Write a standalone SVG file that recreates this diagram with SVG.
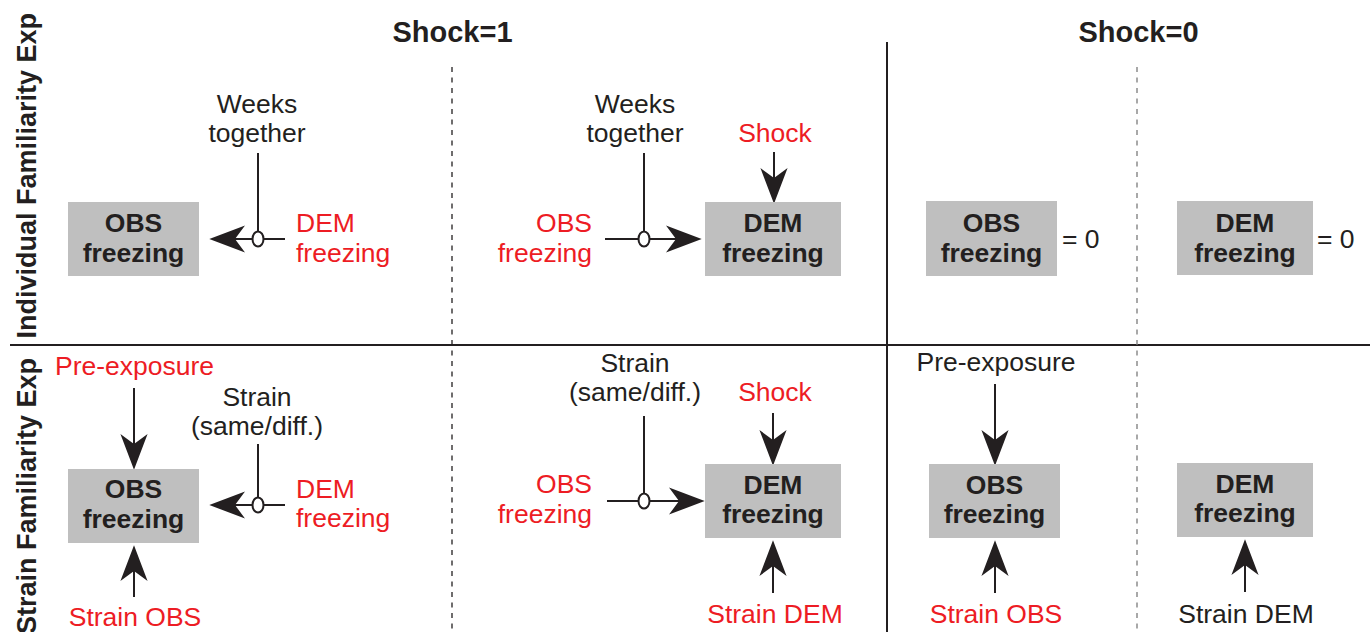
<svg xmlns="http://www.w3.org/2000/svg" width="1370" height="632" viewBox="0 0 1370 632">
<style>
text{font-family:"Liberation Sans",Arial,sans-serif;font-size:26.5px;fill:#231F20}
.b{font-weight:bold}
.r{fill:#ED1C24}
.m{text-anchor:middle}
.e{text-anchor:end}
.hdr{font-weight:bold;font-size:29px;text-anchor:middle}
.side{font-weight:bold;font-size:27px;text-anchor:end}
.box{fill:#BFBFBF}
.sep{stroke:#231F20;stroke-width:2;fill:none}
.dash{stroke:#231F20;stroke-width:1.3;stroke-dasharray:5 5.5;fill:none}
.dash2{stroke:#7a7a7a;stroke-width:1.3;stroke-dasharray:5 5.5;fill:none}
.ln{stroke:#231F20;stroke-width:2;fill:none}
.arr{stroke:#231F20;stroke-width:2;fill:none;marker-end:url(#ah)}
.mod{stroke:#231F20;stroke-width:2;fill:#fff}
</style>
<defs>
<marker id="ah" markerUnits="userSpaceOnUse" orient="auto" refX="0" refY="0" markerWidth="40" markerHeight="40" viewBox="-8 -11 28 22" overflow="visible">
<path d="M18,0 L-7,-9.5 L0,0 L-7,9.5 Z" fill="#231F20"/>
</marker>
</defs>
<g id="frame">
<line class="sep" x1="10" y1="345" x2="1370" y2="345"/>
<line class="sep" x1="887" y1="42" x2="887" y2="632"/>
<line class="dash" x1="452" y1="67" x2="452" y2="632"/>
<line class="dash2" x1="1137" y1="67" x2="1137" y2="632"/>
<text class="hdr" x="452.5" y="42">Shock=1</text>
<text class="hdr" x="1138.5" y="42">Shock=0</text>
<text class="side" transform="translate(36,13) rotate(-90)">Individual Familiarity Exp</text>
<text class="side" transform="translate(36,358) rotate(-90)">Strain Familiarity Exp</text>
</g>
<g id="connectors">
<line class="ln" x1="258" y1="153" x2="258" y2="231"/>
<line class="arr" x1="285" y1="239" x2="235" y2="239"/>
<ellipse class="mod" cx="258" cy="239" rx="5.5" ry="7.5"/>
<line class="ln" x1="644" y1="153" x2="644" y2="231"/>
<line class="arr" x1="605" y1="239" x2="676" y2="239"/>
<ellipse class="mod" cx="644" cy="239" rx="5.5" ry="7.5"/>
<line class="arr" x1="774" y1="152" x2="774" y2="178"/>
<line class="arr" x1="134" y1="388" x2="134" y2="444"/>
<line class="arr" x1="134" y1="597" x2="134" y2="571"/>
<line class="ln" x1="258" y1="444" x2="258" y2="497"/>
<line class="arr" x1="285" y1="505" x2="235" y2="505"/>
<ellipse class="mod" cx="258" cy="505" rx="5.5" ry="7.5"/>
<line class="ln" x1="644" y1="416" x2="644" y2="493"/>
<line class="arr" x1="607" y1="501" x2="679" y2="501"/>
<ellipse class="mod" cx="644" cy="501" rx="5.5" ry="7.5"/>
<line class="arr" x1="773" y1="413" x2="773" y2="440"/>
<line class="arr" x1="773" y1="593" x2="773" y2="566"/>
<line class="arr" x1="995" y1="384" x2="995" y2="440"/>
<line class="arr" x1="995" y1="593" x2="995" y2="566"/>
<line class="arr" x1="1245" y1="592" x2="1245" y2="565"/>
</g>
<g id="ind-shock1-obs-panel">
<g id="n-obs-1"><rect class="box" x="68" y="202" width="131" height="74"/><text class="b m" x="133.5" y="232">OBS</text><text class="b m" x="133.5" y="262">freezing</text></g>
<g id="n-weeks-1"><text class="m" x="257" y="113">Weeks</text><text class="m" x="257" y="142">together</text></g>
<g id="n-demf-1"><text class="r" x="296" y="232">DEM</text><text class="r" x="296" y="262">freezing</text></g>
</g>
<g id="ind-shock1-dem-panel">
<g id="n-weeks-2"><text class="m" x="635" y="113">Weeks</text><text class="m" x="635" y="142">together</text></g>
<g id="n-shock-2"><text class="r m" x="775" y="142">Shock</text></g>
<g id="n-obsf-2"><text class="r e" x="592" y="232">OBS</text><text class="r e" x="592" y="262">freezing</text></g>
<g id="n-dem-2"><rect class="box" x="705" y="202" width="136" height="74"/><text class="b m" x="773" y="232">DEM</text><text class="b m" x="773" y="262">freezing</text></g>
</g>
<g id="ind-shock0">
<g id="n-obs-3"><rect class="box" x="926" y="201" width="131" height="75"/><text class="b m" x="991.5" y="232">OBS</text><text class="b m" x="991.5" y="262">freezing</text><text x="1062" y="248">= 0</text></g>
<g id="n-dem-4"><rect class="box" x="1177" y="201" width="136" height="74"/><text class="b m" x="1245" y="232">DEM</text><text class="b m" x="1245" y="262">freezing</text><text x="1317" y="248">= 0</text></g>
</g>
<g id="str-shock1-obs-panel">
<g id="n-pre-5"><text class="r" x="55" y="375">Pre-exposure</text></g>
<g id="n-strain-5"><text class="m" x="257" y="406">Strain</text><text class="m" x="257" y="435">(same/diff.)</text></g>
<g id="n-obs-5"><rect class="box" x="68" y="469" width="131" height="74"/><text class="b m" x="133.5" y="498">OBS</text><text class="b m" x="133.5" y="528">freezing</text></g>
<g id="n-demf-5"><text class="r" x="296" y="498">DEM</text><text class="r" x="296" y="527">freezing</text></g>
<g id="n-strainobs-5"><text class="r m" x="135" y="626">Strain OBS</text></g>
</g>
<g id="str-shock1-dem-panel">
<g id="n-strain-6"><text class="m" x="635" y="372">Strain</text><text class="m" x="635" y="401">(same/diff.)</text></g>
<g id="n-shock-6"><text class="r m" x="775" y="401">Shock</text></g>
<g id="n-obsf-6"><text class="r e" x="592" y="493">OBS</text><text class="r e" x="592" y="523">freezing</text></g>
<g id="n-dem-6"><rect class="box" x="705" y="464" width="136" height="74"/><text class="b m" x="773" y="494">DEM</text><text class="b m" x="773" y="523">freezing</text></g>
<g id="n-straindem-6"><text class="r m" x="775" y="623">Strain DEM</text></g>
</g>
<g id="str-shock0">
<g id="n-pre-7"><text class="m" x="996" y="371">Pre-exposure</text></g>
<g id="n-obs-7"><rect class="box" x="929" y="464" width="131" height="74"/><text class="b m" x="994.5" y="494">OBS</text><text class="b m" x="994.5" y="523">freezing</text></g>
<g id="n-strainobs-7"><text class="r m" x="996" y="623">Strain OBS</text></g>
<g id="n-dem-8"><rect class="box" x="1177" y="463" width="136" height="74"/><text class="b m" x="1245" y="493">DEM</text><text class="b m" x="1245" y="522">freezing</text></g>
<g id="n-straindem-8"><text class="m" x="1246" y="623">Strain DEM</text></g>
</g>
</svg>
